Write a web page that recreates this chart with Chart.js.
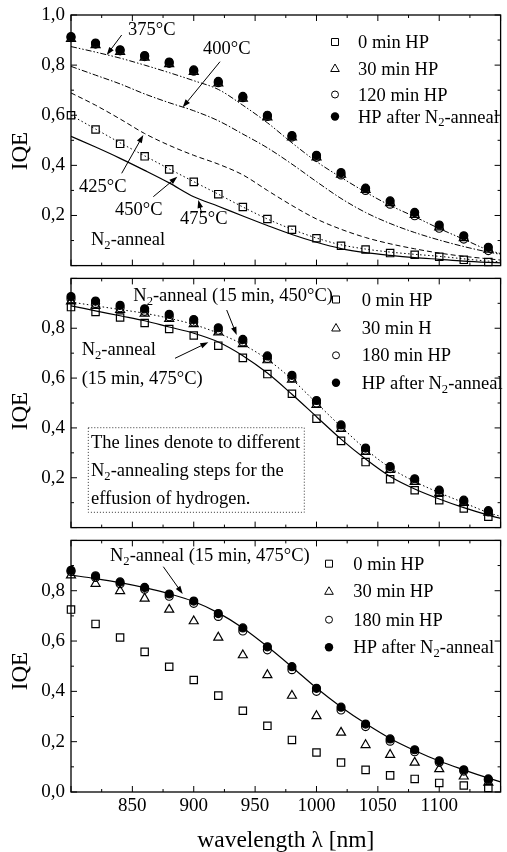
<!DOCTYPE html>
<html lang="en">
<head>
<meta charset="UTF-8">
<title>IQE vs wavelength</title>
<style>
    body {
        margin: 0;
        background: #fff;
    }

    #wrap {
        position: relative;
        width: 507px;
        height: 852px;
    }

    #wrap canvas {
        position: absolute;
        left: 0;
    }
</style>
<script src="https://cdn.jsdelivr.net/npm/chart.js"></script>
</head>
<body>
<div id="wrap">
    <canvas id="c1" width="507" height="272" style="top:0px"></canvas>
    <canvas id="c2" width="507" height="262" style="top:272px"></canvas>
    <canvas id="c3" width="507" height="318" style="top:534px"></canvas>
</div>
<script>
    // wavelengths of the measured points (nm)
    const wl = [800, 820, 840, 860, 880, 900, 920, 940, 960, 980, 1000, 1020, 1040, 1060, 1080, 1100, 1120, 1140];
    // wavelengths used for the annealing curves
    const lineWl = [800, 820, 840, 860, 880, 900, 920, 940, 960, 980, 1000, 1020, 1040, 1060, 1080, 1100, 1120, 1140, 1150];

    // top panel
    const p1Hp0 = [0.600, 0.543, 0.486, 0.436, 0.384, 0.334, 0.285, 0.234, 0.186, 0.143, 0.109, 0.079, 0.064, 0.050, 0.043, 0.035, 0.023, 0.014];
    const p1Hp30 = [0.905, 0.880, 0.853, 0.830, 0.804, 0.773, 0.727, 0.667, 0.592, 0.512, 0.432, 0.363, 0.302, 0.250, 0.203, 0.153, 0.110, 0.064];
    const p1Hp120 = [0.910, 0.884, 0.857, 0.834, 0.807, 0.776, 0.730, 0.670, 0.595, 0.513, 0.432, 0.362, 0.300, 0.245, 0.199, 0.149, 0.106, 0.060];
    const p1HpN2 = [0.914, 0.888, 0.861, 0.838, 0.812, 0.781, 0.735, 0.675, 0.600, 0.519, 0.440, 0.371, 0.309, 0.258, 0.212, 0.162, 0.119, 0.073];
    const p1L375 = [0.874, 0.852, 0.828, 0.800, 0.770, 0.738, 0.703, 0.640, 0.570, 0.490, 0.415, 0.352, 0.293, 0.240, 0.195, 0.148, 0.105, 0.062, 0.048];
    const p1L400 = [0.795, 0.760, 0.725, 0.685, 0.650, 0.618, 0.578, 0.525, 0.470, 0.405, 0.335, 0.268, 0.212, 0.168, 0.132, 0.102, 0.076, 0.054, 0.045];
    const p1L425 = [0.689, 0.640, 0.585, 0.527, 0.480, 0.440, 0.405, 0.362, 0.300, 0.240, 0.186, 0.145, 0.112, 0.087, 0.067, 0.050, 0.037, 0.027, 0.022];
    const p1L450 = [0.600, 0.545, 0.490, 0.438, 0.386, 0.335, 0.285, 0.234, 0.186, 0.145, 0.110, 0.083, 0.066, 0.054, 0.045, 0.037, 0.027, 0.018, 0.015];
    const p1L475 = [0.516, 0.473, 0.428, 0.380, 0.330, 0.275, 0.237, 0.198, 0.160, 0.124, 0.093, 0.068, 0.052, 0.041, 0.032, 0.025, 0.018, 0.013, 0.011];

    // middle panel
    const p2Hp0 = [0.885, 0.865, 0.843, 0.821, 0.797, 0.771, 0.730, 0.681, 0.616, 0.537, 0.437, 0.348, 0.263, 0.194, 0.150, 0.110, 0.077, 0.044];
    const p2Hp30 = [0.908, 0.891, 0.874, 0.859, 0.838, 0.817, 0.784, 0.737, 0.672, 0.594, 0.493, 0.396, 0.304, 0.232, 0.184, 0.139, 0.100, 0.060];
    const p2Hp180 = [0.917, 0.899, 0.882, 0.868, 0.846, 0.825, 0.792, 0.745, 0.679, 0.601, 0.500, 0.403, 0.310, 0.237, 0.189, 0.143, 0.104, 0.063];
    const p2HpN2 = [0.927, 0.909, 0.892, 0.878, 0.856, 0.835, 0.802, 0.755, 0.689, 0.611, 0.510, 0.412, 0.319, 0.245, 0.196, 0.150, 0.110, 0.068];
    const p2L450 = [0.905, 0.890, 0.875, 0.860, 0.840, 0.815, 0.780, 0.735, 0.675, 0.595, 0.500, 0.405, 0.315, 0.240, 0.185, 0.140, 0.100, 0.060, 0.045];
    const p2L475 = [0.890, 0.870, 0.850, 0.830, 0.805, 0.780, 0.745, 0.690, 0.620, 0.535, 0.445, 0.355, 0.275, 0.205, 0.155, 0.115, 0.080, 0.050, 0.037];

    // bottom panel
    const p3Hp0 = [0.725, 0.668, 0.614, 0.557, 0.498, 0.445, 0.383, 0.323, 0.263, 0.207, 0.157, 0.117, 0.088, 0.066, 0.052, 0.036, 0.026, 0.016];
    const p3Hp30 = [0.861, 0.828, 0.799, 0.769, 0.725, 0.679, 0.614, 0.544, 0.465, 0.383, 0.302, 0.236, 0.187, 0.148, 0.117, 0.091, 0.062, 0.038];
    const p3Hp180 = [0.876, 0.853, 0.828, 0.806, 0.778, 0.750, 0.698, 0.640, 0.565, 0.486, 0.400, 0.326, 0.260, 0.202, 0.160, 0.118, 0.083, 0.048];
    const p3HpN2 = [0.881, 0.859, 0.835, 0.813, 0.787, 0.759, 0.709, 0.652, 0.577, 0.498, 0.412, 0.337, 0.270, 0.211, 0.168, 0.124, 0.088, 0.052];
    const p3L475 = [0.862, 0.848, 0.832, 0.812, 0.788, 0.757, 0.712, 0.652, 0.578, 0.497, 0.413, 0.338, 0.272, 0.213, 0.165, 0.123, 0.088, 0.055, 0.040];

    const p1Legend = ['0 min HP', '30 min HP', '120 min HP', 'HP after N_2-anneal'];
    const p2Legend = ['0 min HP', '30 min H', '180 min HP', 'HP after N_2-anneal'];
    const p3Legend = ['0 min HP', '30 min HP', '180 min HP', 'HP after N_2-anneal'];

    const FONT = '"Liberation Serif", "Times New Roman", serif';

    // decorations per canvas (canvas-local px)
    const decor = {
        c1: {
            iqeY: 151,
            legend: { mx: 335, tx: 358, rows: [42, 68.5, 94.5, 116.5], labels: p1Legend },
            notes: [
                [128, 29, '375°C'], [203, 47.5, '400°C'], [79, 186, '425°C'],
                [115, 209, '450°C'], [180, 217.5, '475°C'], [91, 239, 'N_2-anneal']
            ],
            arrows: [
                [121.7, 35, 106.7, 55], [220, 61.7, 182.7, 107.3], [121.7, 173.3, 143.3, 135],
                [153.3, 196.7, 177.3, 176.7], [201.7, 213.3, 198.3, 200]
            ]
        },
        c2: {
            iqeY: 139,
            legend: { mx: 336, tx: 361.7, rows: [27.5, 56, 83.3, 110.8], labels: p2Legend },
            notes: [
                [133.3, 23, 'N_2-anneal (15 min, 450°C)'], [81.7, 76.7, 'N_2-anneal'], [81.7, 106, '(15 min, 475°C)'],
                [91, 169.7, 'The lines denote to different'], [91, 198, 'N_2-annealing steps for the'],
                [91, 225.5, 'effusion of hydrogen.']
            ],
            arrows: [[226.7, 38, 236.7, 63], [175, 86.3, 208.3, 70.3]],
            box: [88.3, 155.7, 304.3, 240.3]
        },
        c3: {
            iqeY: 137,
            legend: { mx: 329, tx: 353.3, rows: [29.7, 57.3, 85.7, 113.2], labels: p3Legend },
            notes: [[110, 21, 'N_2-anneal (15 min, 475°C)']],
            arrows: [[163.3, 32.7, 182.7, 60]]
        }
    };

    function pts(xs, ys) {
        return xs.map((x, i) => ({ x: x, y: ys[i] }));
    }

    function markerSet(label, values, style, filled, order) {
        return {
            label: label,
            data: pts(wl, values),
            showLine: false,
            pointStyle: style,
            pointRadius: style === 'circle' ? 4 : 5.2,
            pointBorderWidth: 1.2,
            pointBorderColor: '#000',
            pointBackgroundColor: filled ? '#000' : 'rgba(0,0,0,0)',
            clip: false,
            order: order
        };
    }

    function curve(label, values, dash, width) {
        return {
            label: label,
            data: pts(lineWl, values),
            showLine: true,
            borderColor: '#000',
            borderWidth: width || 1,
            borderDash: dash,
            pointRadius: 0,
            cubicInterpolationMode: 'monotone',
            order: 10
        };
    }

    // draws text with "_2" style subscripts, y is the visual centre
    function richText(ctx, str, x, y, size) {
        const parts = str.split(/_(\d)/);
        const base = y + size * 0.33;
        let cx = x;
        parts.forEach((p, i) => {
            const sub = i % 2 === 1;
            ctx.font = (sub ? size * 0.68 : size) + 'px ' + FONT;
            ctx.fillText(p, cx, sub ? base + size * 0.2 : base);
            cx += ctx.measureText(p).width;
        });
    }

    function arrow(ctx, x1, y1, x2, y2) {
        const a = Math.atan2(y2 - y1, x2 - x1);
        const h = 8, w = 2.8;
        ctx.beginPath();
        ctx.moveTo(x1, y1);
        ctx.lineTo(x2 - h * 0.7 * Math.cos(a), y2 - h * 0.7 * Math.sin(a));
        ctx.stroke();
        ctx.beginPath();
        ctx.moveTo(x2, y2);
        ctx.lineTo(x2 - h * Math.cos(a) + w * Math.sin(a), y2 - h * Math.sin(a) - w * Math.cos(a));
        ctx.lineTo(x2 - h * Math.cos(a) - w * Math.sin(a), y2 - h * Math.sin(a) + w * Math.cos(a));
        ctx.closePath();
        ctx.fill();
    }

    function legendMark(ctx, kind, x, y) {
        ctx.beginPath();
        if (kind === 0) {
            ctx.rect(x - 3.5, y - 3.5, 7, 7);
            ctx.stroke();
        } else if (kind === 1) {
            ctx.moveTo(x, y - 4.5);
            ctx.lineTo(x + 4.3, y + 3);
            ctx.lineTo(x - 4.3, y + 3);
            ctx.closePath();
            ctx.stroke();
        } else if (kind === 2) {
            ctx.arc(x, y, 3.5, 0, Math.PI * 2);
            ctx.stroke();
        } else {
            ctx.arc(x, y, 4.2, 0, Math.PI * 2);
            ctx.fill();
        }
    }

    const deco = {
        id: 'deco',
        afterDraw(chart) {
            const d = decor[chart.canvas.id];
            const ctx = chart.ctx;
            const { left, right, top, bottom } = chart.chartArea;
            const xs = chart.scales.x, ys = chart.scales.y;
            ctx.save();
            ctx.strokeStyle = '#000';
            ctx.fillStyle = '#000';

            // frame with inward ticks on all four sides
            ctx.lineWidth = 1.3;
            ctx.strokeRect(left, top, right - left, bottom - top);
            ctx.lineWidth = 1;
            ctx.beginPath();
            for (let v = 800; v <= 1150; v += 25) {
                const px = xs.getPixelForValue(v);
                const len = v % 50 === 0 ? 6 : 3;
                ctx.moveTo(px, bottom); ctx.lineTo(px, bottom - len);
                ctx.moveTo(px, top); ctx.lineTo(px, top + len);
            }
            for (let i = 0; i <= 10; i++) {
                const py = ys.getPixelForValue(i / 10);
                const len = i % 2 === 0 ? 6 : 3;
                ctx.moveTo(left, py); ctx.lineTo(left + len, py);
                ctx.moveTo(right, py); ctx.lineTo(right - len, py);
            }
            ctx.stroke();

            // y title
            ctx.save();
            ctx.translate(21, d.iqeY);
            ctx.rotate(-Math.PI / 2);
            ctx.textAlign = 'center';
            ctx.textBaseline = 'middle';
            ctx.font = '23px ' + FONT;
            ctx.fillText('IQE', 0, 0);
            ctx.restore();

            // legend
            ctx.textAlign = 'left';
            ctx.textBaseline = 'alphabetic';
            d.legend.rows.forEach((ry, i) => {
                legendMark(ctx, i, d.legend.mx, ry);
                richText(ctx, d.legend.labels[i], d.legend.tx, ry, 18.5);
            });

            // annotations
            d.notes.forEach(n => richText(ctx, n[2], n[0], n[1], 18.5));
            ctx.lineWidth = 1;
            d.arrows.forEach(a => arrow(ctx, a[0], a[1], a[2], a[3]));

            if (d.box) {
                ctx.setLineDash([1, 2]);
                ctx.strokeStyle = '#333';
                ctx.strokeRect(d.box[0], d.box[1], d.box[2] - d.box[0], d.box[3] - d.box[1]);
                ctx.setLineDash([]);
            }
            ctx.restore();
        }
    };

    function makeChart(id, datasets, hidden, pad, showX) {
        const yAxis = {
            type: 'linear',
            min: 0,
            max: 1,
            grid: { display: false, drawTicks: false },
            border: { display: false },
            ticks: {
                stepSize: 0.2,
                padding: 6,
                color: '#000',
                font: { family: FONT, size: 19 },
                callback: v => hidden.includes(Math.round(v * 10)) ? '' : v.toFixed(1).replace('.', ',')
            },
            afterFit: s => {
                s.width = 71;
                s.paddingTop = 0;
                s.paddingBottom = 0;
            }
        };
        const xAxis = {
            type: 'linear',
            min: 800,
            max: 1150,
            display: showX,
            grid: { display: false, drawTicks: false },
            border: { display: false },
            ticks: {
                stepSize: 50,
                padding: 3,
                autoSkip: false,
                maxRotation: 0,
                color: '#000',
                font: { family: FONT, size: 19 },
                callback: v => (v === 800 || v === 1150) ? '' : String(v)
            },
            title: {
                display: true,
                text: 'wavelength λ [nm]',
                color: '#000',
                font: { family: FONT, size: 23.5 },
                padding: { top: 0, bottom: -3 }
            },
            afterFit: s => {
                if (!showX) return;
                s.height = 60;
                s.paddingLeft = 0;
                s.paddingRight = 0;
            }
        };
        return new Chart(document.getElementById(id), {
            type: 'scatter',
            data: { datasets: datasets },
            options: {
                responsive: false,
                animation: false,
                events: [],
                layout: { padding: pad },
                plugins: { legend: { display: false }, tooltip: { enabled: false } },
                scales: { x: xAxis, y: yAxis }
            },
            plugins: [deco]
        });
    }

    makeChart('c1', [
        markerSet('HP after N2-anneal', p1HpN2, 'circle', true, 0),
        markerSet('120 min HP', p1Hp120, 'circle', false, 1),
        markerSet('30 min HP', p1Hp30, 'triangle', false, 2),
        markerSet('0 min HP', p1Hp0, 'rect', false, 3),
        curve('375°C', p1L375, [6, 2, 1.5, 2, 1.5, 2]),
        curve('400°C', p1L400, [6, 2, 1.5, 2]),
        curve('425°C', p1L425, [5, 3]),
        curve('450°C', p1L450, [1.5, 2.5]),
        curve('475°C', p1L475, [], 1.2)
    ], [0], { top: 15, right: 2, bottom: 5, left: 0 }, false);

    makeChart('c2', [
        markerSet('HP after N2-anneal', p2HpN2, 'circle', true, 0),
        markerSet('180 min HP', p2Hp180, 'circle', false, 1),
        markerSet('30 min H', p2Hp30, 'triangle', false, 2),
        markerSet('0 min HP', p2Hp0, 'rect', false, 3),
        curve('450°C', p2L450, [1.5, 2.5]),
        curve('475°C', p2L475, [], 1.2)
    ], [0, 10], { top: 6, right: 2, bottom: 5, left: 0 }, false);

    makeChart('c3', [
        markerSet('HP after N2-anneal', p3HpN2, 'circle', true, 0),
        markerSet('180 min HP', p3Hp180, 'circle', false, 1),
        markerSet('30 min HP', p3Hp30, 'triangle', false, 2),
        markerSet('0 min HP', p3Hp0, 'rect', false, 3),
        curve('475°C', p3L475, [], 1.2)
    ], [10], { top: 6, right: 2, bottom: 0, left: 0 }, true);
</script>
</body>
</html>
